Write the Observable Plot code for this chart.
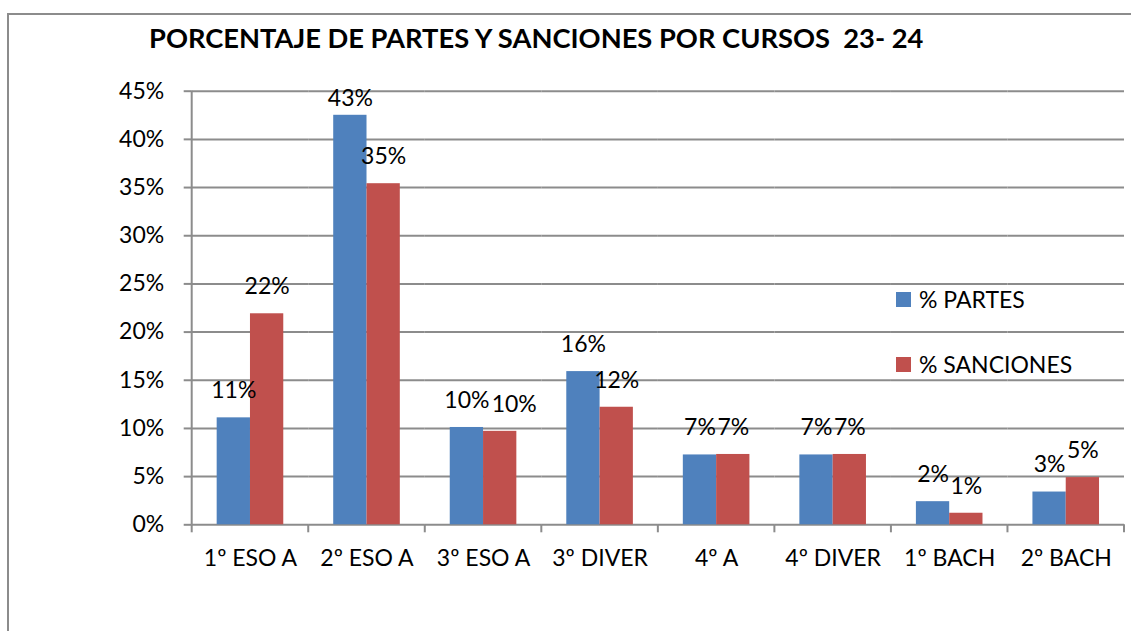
<!DOCTYPE html>
<html>
<head>
<meta charset="utf-8">
<script src="https://cdn.jsdelivr.net/npm/d3@7"></script>
<script src="https://cdn.jsdelivr.net/npm/@observablehq/plot@0.6"></script>
<style>
  html, body { margin: 0; padding: 0; background: #fff; overflow: hidden; }
  #wrap { position: relative; width: 1131px; height: 631px; font-family: Lato, "Noto Sans", sans-serif; }
  #frame { position: absolute; left: 7px; top: 13px; width: 1200px; height: 700px; border: 2px solid #8c8c8c; box-sizing: border-box; }
  #title { position: relative; height: 62px; box-sizing: border-box; padding-left: 149px; padding-top: 22px; font-weight: 700; font-size: 27.3px; line-height: 32px; color: #000; white-space: pre; }
  #chart { position: relative; }
  .leg { position: absolute; left: 896px; display: flex; align-items: center; font-size: 23px; color: #000; white-space: pre; }
  .leg span.sw { display: inline-block; width: 15px; height: 15px; margin-right: 8px; }
</style>
</head>
<body>
<div id="wrap">
  <div id="frame"></div>
  <div id="title">PORCENTAJE DE PARTES Y SANCIONES POR CURSOS  23- 24</div>
  <div id="chart"></div>
  <div id="legend"></div>
</div>
<script>
const categories = ["1º ESO A", "2º ESO A", "3º ESO A", "3º DIVER", "4º A", "4º DIVER", "1º BACH", "2º BACH"];
const series = ["% PARTES", "% SANCIONES"];
const partes = [11.1, 42.5, 10.1, 15.9, 7.25, 7.25, 2.4, 3.4];
const sanciones = [21.9, 35.4, 9.7, 12.2, 7.3, 7.3, 1.2, 4.9];
const yTicks = [0, 5, 10, 15, 20, 25, 30, 35, 40, 45];
const colors = ["#4F81BD", "#C0504D"];

const data = [];
categories.forEach((c, i) => {
  data.push({cat: c, series: series[0], value: partes[i]});
  data.push({cat: c, series: series[1], value: sanciones[i]});
});

const labelCeil = 41.45;
const isShifted = d => d.cat === "3º ESO A" && d.series === series[1];
const labelText = d => Math.round(d.value) + "%";

const W = 1131, H = 569;
const gridColor = "#8c8c8c";
const font = "Lato, 'Noto Sans', sans-serif";

const plot = Plot.plot({
  width: W,
  height: H,
  marginLeft: 191.7,
  marginRight: 7,
  marginTop: 28.7,
  marginBottom: 106.7,
  style: {fontFamily: font, fontSize: "23px", color: "#000", background: "transparent"},
  fx: {domain: categories, padding: 0, round: false, label: null},
  x: {domain: series, paddingInner: 0, paddingOuter: 0.75, round: false, axis: null},
  y: {domain: [0, 45], ticks: yTicks, label: null},
  color: {domain: series, range: colors},
  marks: [
    Plot.gridY(yTicks, {stroke: gridColor, strokeOpacity: 1, strokeWidth: 2}),
    Plot.axisY(yTicks, {tickSize: 8, tickPadding: 20, stroke: gridColor, strokeWidth: 2, fill: "#000", tickFormat: d => d + "%", label: null, fontSize: 23}),
    Plot.axisFx({anchor: "bottom", tickSize: 0, tickPadding: 25, label: null, fontSize: 23, fill: "#000"}),
    Plot.barY(data, {fx: "cat", x: "series", y: "value", fill: "series"}),
    Plot.text(data.filter(d => !isShifted(d)), {fx: "cat", x: "series", y: d => Math.min(d.value, labelCeil), text: labelText, dy: -27, fontSize: 23, fill: "#000", lineAnchor: "middle"}),
    Plot.text(data.filter(isShifted), {fx: "cat", x: "series", y: d => Math.min(d.value, labelCeil), text: labelText, dy: -27, dx: 14, fontSize: 23, fill: "#000", lineAnchor: "middle"})
  ]
});

document.getElementById("chart").appendChild(plot);

// axis line and category boundary ticks, placed with Plot's own scales
const fx = plot.scale("fx");
const ys = plot.scale("y");
const svg = d3.select(plot);
const g = svg.append("g").attr("stroke", gridColor).attr("stroke-width", 2);
const y0 = ys.apply(0), yTop = ys.apply(45);
const x0 = fx.apply(categories[0]);
g.append("line").attr("x1", x0).attr("x2", x0).attr("y1", yTop).attr("y2", y0);
const bounds = categories.map(c => fx.apply(c)).concat([fx.apply(categories[categories.length - 1]) + fx.bandwidth]);
bounds.forEach(b => {
  g.append("line").attr("x1", b).attr("x2", b).attr("y1", y0).attr("y2", y0 + 8);
});

// legend inside plot area
const legend = document.getElementById("legend");
const legTops = [299, 364];
series.forEach((s, i) => {
  const el = document.createElement("div");
  el.className = "leg";
  el.style.top = (legTops[i] - 15) + "px";
  el.style.height = "30px";
  el.innerHTML = `<span class="sw" style="background:${colors[i]}"></span>${s}`;
  legend.appendChild(el);
});
</script>
</body>
</html>
